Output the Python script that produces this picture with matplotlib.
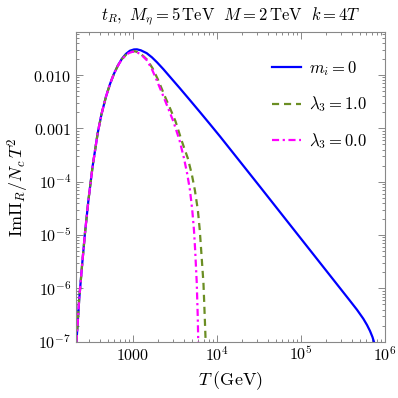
"""Im Pi_R / N_c T^2 versus T for t_R (log-log)."""
import matplotlib

matplotlib.use("Agg")
import matplotlib.pyplot as plt
from matplotlib.ticker import FixedLocator, FuncFormatter, LogLocator, NullFormatter

plt.rcParams["mathtext.fontset"] = "cm"
plt.rcParams["font.family"] = ["DejaVu Serif"]

# ramo comum (as tres curvas coincidem a baixas temperaturas)
T_low = [212.6, 228.8, 247.1, 268.3, 295.3, 330.4, 380.1, 421.7, 477.1, 532.3, 593.9]
y_low = [9.8e-8, 6.01e-7, 2.53e-6, 1.07e-5, 4.52e-5, 1.90e-4, 8.05e-4, 1.83e-3, 3.91e-3, 6.74e-3,
         0.01055]

# m_i = 0
T_mi0 = [662.8, 739.6, 825.4, 921.0, 1027.8, 1115.8, 1245.1, 1456, 1683, 1931, 2295, 2834, 3627,
         4771, 6276, 8254, 10860, 18790, 32500, 73960, 168400, 383100, 464200, 551600, 610500,
         662900, 710000, 739600, 760300]
y_mi0 = [0.01517, 0.02025, 0.02498, 0.02857, 0.03021, 0.03035, 0.02906, 0.02576, 0.02148, 0.01738,
         0.01296, 8.82e-3, 5.63e-3, 3.38e-3, 2.02e-3, 1.20e-3, 7.08e-4, 2.39e-4, 8.06e-5, 1.56e-5,
         3.02e-6, 5.85e-7, 3.97e-7, 2.70e-7, 2.06e-7, 1.59e-7, 1.22e-7, 9.9e-8, 7.9e-8]

# lambda_3 = 1.0
T_lam1 = [662.8, 739.6, 825.4, 896.3, 972.9, 1042, 1115.8, 1269.5, 1468, 1706, 1973, 2391, 2757,
          3206, 3779, 4491, 5012, 5457, 5924, 6242, 6486, 6906, 7157, 7337, 7396]
y_lam1 = [0.01508, 0.01996, 0.02393, 0.02610, 0.02748, 0.02796, 0.02724, 0.02414, 0.01954, 0.01353,
          8.41e-3, 4.04e-3, 2.40e-3, 1.37e-3, 6.03e-4, 2.77e-4, 1.39e-4, 6.96e-5, 2.93e-5, 1.24e-5,
          5.21e-6, 1.25e-6, 2.88e-7, 9.8e-8, 6e-8]

# lambda_3 = 0.0
T_lam0 = [662.8, 739.6, 825.4, 896.3, 972.9, 1042, 1115.8, 1269.5, 1456, 1669, 1915, 2295, 2632,
          3018, 3578, 4047, 4430, 4771, 5082, 5324, 5502, 5749, 5908, 5990, 6039]
y_lam0 = [0.01501, 0.01979, 0.02372, 0.02587, 0.02712, 0.02748, 0.02689, 0.02372, 0.01912, 0.01324,
          8.06e-3, 4.04e-3, 2.35e-3, 1.37e-3, 6.03e-4, 2.77e-4, 1.39e-4, 6.96e-5, 2.93e-5, 1.24e-5,
          5.21e-6, 1.25e-6, 2.88e-7, 9.8e-8, 6e-8]

x_ticks = [1e3, 1e4, 1e5, 1e6]
x_labels = ["$1000$", "$10^{4}$", "$10^{5}$", "$10^{6}$"]
y_ticks = [1e-7, 1e-6, 1e-5, 1e-4, 1e-3, 1e-2]
y_labels = ["$10^{-7}$", "$10^{-6}$", "$10^{-5}$", "$10^{-4}$", "$0.001$", "$0.010$"]

W, H = 398, 398
fig = plt.figure(figsize=(W / 100, H / 100), dpi=100)
ax = fig.add_axes([76 / W, 1 - 341.7 / H, 309 / W, 310 / H])

ax.plot(T_low + T_mi0, y_low + y_mi0, color="#0000ff", lw=1.6, label="$m_i = 0$")
ax.plot(T_low + T_lam1, y_low + y_lam1, color="#6b8e23", lw=1.6, ls=(0, (3.2, 2.2)),
        label=r"$\lambda_3 = 1.0$")
ax.plot(T_low + T_lam0, y_low + y_lam0, color="#ff00ff", lw=1.6, ls=(0, (3.2, 1.6, 1.0, 1.6)),
        label=r"$\lambda_3 = 0.0$")

ax.set_xscale("log")
ax.set_yscale("log")
ax.set_xlim(210, 1e6)
ax.set_ylim(1e-7, 0.065)

ax.xaxis.set_major_locator(FixedLocator(x_ticks))
ax.xaxis.set_major_formatter(FuncFormatter(lambda v, p: x_labels[x_ticks.index(v)] if v in x_ticks else ""))
ax.yaxis.set_major_locator(FixedLocator(y_ticks))
ax.yaxis.set_major_formatter(FuncFormatter(lambda v, p: y_labels[y_ticks.index(v)] if v in y_ticks else ""))
for axis in (ax.xaxis, ax.yaxis):
    axis.set_minor_locator(LogLocator(base=10, subs=range(2, 10), numticks=20))
    axis.set_minor_formatter(NullFormatter())

ax.tick_params(which="both", direction="in", top=True, right=True, colors="#888888",
               labelcolor="black", labelsize=11.5, width=0.7)
ax.tick_params(which="major", length=5)
ax.tick_params(which="minor", length=2.5)
for s in ax.spines.values():
    s.set_color("#888888")
    s.set_linewidth(0.8)

ax.set_xlabel(r"$T\;(\mathrm{GeV})$", fontsize=13, labelpad=3)
ax.set_ylabel(r"$\mathrm{Im}\Pi_R/N_c\,T^2$", fontsize=13, labelpad=2)
ax.set_title(r"$t_R,\ M_\eta = 5\,\mathrm{TeV}\ \ M = 2\,\mathrm{TeV}\ \ k = 4T$", fontsize=12, pad=9)

ax.legend(loc="upper left", bbox_to_anchor=(0.635, 0.912), frameon=False, fontsize=12,
          handlelength=1.7, handletextpad=0.5, labelspacing=1.0, borderpad=0, borderaxespad=0)

fig.savefig("out.png", dpi=100)
